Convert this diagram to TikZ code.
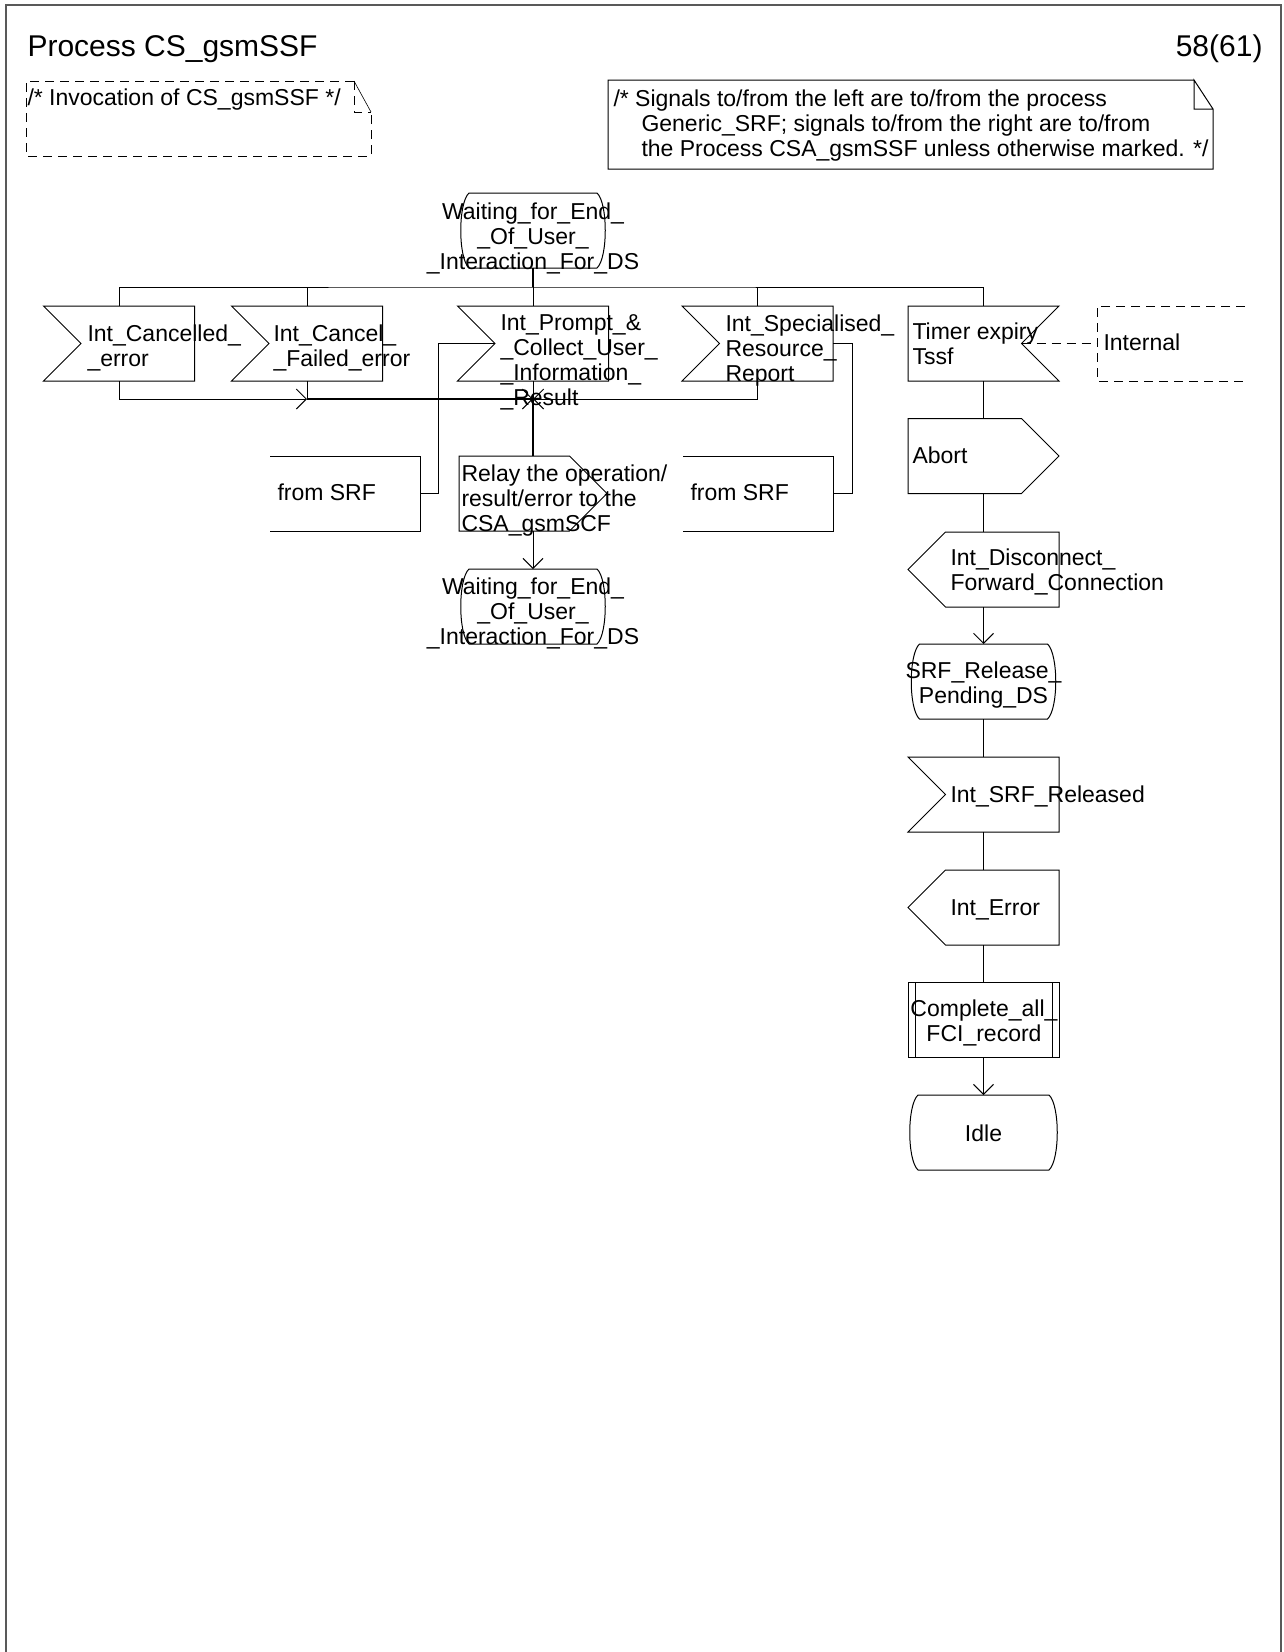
\documentclass[tikz,border=0pt]{standalone}
\usepackage{fontspec}
\setmainfont{Liberation Sans}
\usetikzlibrary{calc,arrows.meta}
\newcommand\fsn{\fontsize{23}{25}\selectfont}
\newcommand\fst{\fontsize{30}{34}\selectfont}
% shape outlines drawn from a named (invisible) node
\newcommand\drawinL[1]{\draw (#1.north west) -- (#1.north east) -- (#1.south east) -- (#1.south west) -- ($(#1.west)+(37.5,0)$) -- cycle;}
\newcommand\drawinR[1]{\draw (#1.north east) -- (#1.north west) -- (#1.south west) -- (#1.south east) -- ($(#1.east)+(-37.5,0)$) -- cycle;}
\newcommand\drawoutR[1]{\draw (#1.north west) -- ($(#1.north east)+(-37.5,0)$) -- (#1.east) -- ($(#1.south east)+(-37.5,0)$) -- (#1.south west) -- cycle;}
\newcommand\drawoutL[1]{\draw (#1.west) -- ($(#1.north west)+(37.5,0)$) -- (#1.north east) -- (#1.south east) -- ($(#1.south west)+(37.5,0)$) -- cycle;}
\newcommand\drawstate[1]{\draw ($(#1.north west)+(10,0)$) -- ($(#1.north east)+(-10,0)$) .. controls ($(#1.north east)+(1,10)$) and ($(#1.south east)+(1,-10)$) .. ($(#1.south east)+(-10,0)$) -- ($(#1.south west)+(10,0)$) .. controls ($(#1.south west)+(-1,-10)$) and ($(#1.north west)+(-1,10)$) .. ($(#1.north west)+(10,0)$) -- cycle;}
\newcommand\drawproc[1]{\draw (#1.north west) rectangle (#1.south east); \draw ($(#1.north west)+(7,0)$) -- ($(#1.south west)+(7,0)$); \draw ($(#1.north east)+(-7,0)$) -- ($(#1.south east)+(-7,0)$);}
\newcommand\drawcomm[1]{\draw (#1.north west) -- (#1.north east) -- (#1.south east) -- (#1.south west);}
\begin{document}
\begin{tikzpicture}[x=1pt,y=-1pt,line width=1pt,
  box/.style={inner sep=0pt, outer sep=0pt, minimum width=151, minimum height=75},
  sbox/.style={box, minimum width=148},
  txt/.style={anchor=north west, inner sep=0pt, align=left, font=\fsn, execute at begin node=\strut},
  txtc/.style={anchor=north, inner sep=0pt, align=center, font=\fsn, execute at begin node=\strut},
  arr/.style={-{Straight Barb[length=10pt,width=20pt]}},
  dsh/.style={dash pattern=on 9pt off 6pt},
  heavy/.style={line width=2pt}]
\useasboundingbox (0,0) rectangle (1284,1652);
% frame
\draw[black!65, line width=1.5pt] (6,1652) -- (6,5) -- (1281,5) -- (1281,1652);
% title
\node[anchor=base west, inner sep=0pt, font=\fst] (title) at (27,56) {Process CS\_gsmSSF};
\node[anchor=base east, inner sep=0pt, font=\fst] (page) at (1263,56) {58(61)};
% comments
\draw[dsh] (354,81) -- (26,81) -- (26,156) -- (371,156) -- (371,112);
\draw[line width=0.6pt] (354,81) -- (371,112);
\draw[dsh, line width=0.8pt] (354,81) -- (354,112) -- (371,112);
\node[txt] (cinv) at (27,87) {/* Invocation of CS\_gsmSSF */};
\draw (1194,80) -- (608,80) -- (608,169) -- (1213,169) -- (1213,109) -- (1194,80) -- (1194,109) -- (1213,109);
\node[txt] (csig) at (613,89.5) {/* Signals to/from the left are to/from the process\\\hspace*{28pt}Generic\_SRF; signals to/from the right are to/from\\\hspace*{28pt}the Process CSA\_gsmSSF unless otherwise marked. */};
% shape nodes
\node[sbox] (topst) at (533,230.5) {};
\node[box] (sigA) at (119,343.5) {};
\node[box] (sigB) at (307,343.5) {};
\node[box] (sigC) at (533,343.5) {};
\node[box] (sigD) at (757.5,343.5) {};
\node[box] (sigE) at (983.5,343.5) {};
\node[sbox] (intl) at (1171,343.5) {};
\node[box, minimum width=150] (cmL) at (345,493.5) {};
\node[sbox] (relay) at (533,493.5) {};
\node[box, minimum width=150] (cmR) at (758,493.5) {};
\node[sbox] (botst) at (533,606.5) {};
\node[box] (abort) at (983.5,456) {};
\node[box] (disc) at (983.5,569.5) {};
\node[sbox] (srfst) at (983.5,681.5) {};
\node[box] (srfrel) at (983.5,794.5) {};
\node[box] (interr) at (983.5,907.5) {};
\node[box] (compl) at (983.5,1019.5) {};
\node[box] (idle) at (983.5,1132.5) {};
% outlines
\drawstate{topst}
\drawinL{sigA}
\drawinL{sigB}
\drawinL{sigC}
\drawinL{sigD}
\drawinR{sigE}
\draw[dsh] (intl.north east) -- (intl.north west) -- (intl.south west) -- (intl.south east);
\drawcomm{cmL}
\drawoutR{relay}
\drawcomm{cmR}
\drawstate{botst}
\drawoutR{abort}
\drawoutL{disc}
\drawstate{srfst}
\drawinL{srfrel}
\drawoutL{interr}
\drawproc{compl}
\drawstate{idle}
% texts
\node[txtc] (ttop) at (533,202.5) {Waiting\_for\_End\_\\\_Of\_User\_\\\_Interaction\_For\_DS};
\node[txt] (tA) at (87,324.5) {Int\_Cancelled\_\\\_error};
\node[txt] (tB) at (273,324.5) {Int\_Cancel\_\\\_Failed\_error};
\node[txt] (tC) at (500,314.5) {Int\_Prompt\_\&\\\_Collect\_User\_\\\_Information\_\\\_Result};
\node[txt] (tD) at (725,314.5) {Int\_Specialised\_\\Resource\_\\Report};
\node[txt] (tE) at (912,322.5) {Timer expiry\\Tssf};
\node[txt] (tInt) at (1103,332.5) {Internal};
\node[txt] (tCL) at (277,482.5) {from SRF};
\node[txt] (tRelay) at (461,464.5) {Relay the operation/\\result/error to the\\CSA\_gsmSCF};
\node[txt] (tCR) at (690,482.5) {from SRF};
\node[txtc] (tBot) at (533,577.5) {Waiting\_for\_End\_\\\_Of\_User\_\\\_Interaction\_For\_DS};
\node[txt] (tAbort) at (912,445.5) {Abort};
\node[txt] (tDisc) at (950,548.5) {Int\_Disconnect\_\\Forward\_Connection};
\node[txtc] (tSrf) at (983.5,661) {SRF\_Release\_\\Pending\_DS};
\node[txt] (tRel) at (950,784.5) {Int\_SRF\_Released};
\node[txt] (tErr) at (950,897.5) {Int\_Error};
\node[txtc] (tCompl) at (984,999.5) {Complete\_all\_\\FCI\_record};
\node[txtc] (tIdle) at (983.5,1123) {Idle};
% connectors
\coordinate (bus) at (533,287);
\coordinate (mrg) at (533,399);
\coordinate (sigCn) at ($(sigC.west)+(37.5,0)$);
\coordinate (sigEn) at ($(sigE.east)+(-37.5,0)$);
\draw[heavy] (topst.south) -- (bus);
\draw (sigA.north) |- (bus) -| (sigE.north);
\draw (sigB.north) -- (sigB.north |- bus);
\draw (sigC.north) -- (bus);
\draw (sigD.north) -- (sigD.north |- bus);
\draw[arr] (sigA.south) |- (sigB.south |- mrg);
\draw (sigB.south) -- (sigB.south |- mrg);
\draw[heavy] (sigB.south |- mrg) -- (mrg);
\draw[arr] ($(mrg)+(-20,0)$) -- (mrg);
\draw[arr] (sigD.south) |- (mrg);
\draw (sigC.south) -- (mrg);
\draw[heavy] (mrg) -- (relay.north);
\draw (cmL.east) -- ++(18,0) |- (sigCn);
\draw (cmR.east) -- ++(19,0) |- (sigD.east);
\draw[dsh] (sigEn) -- (intl.west);
\draw[arr] (relay.south) -- (botst.north);
\draw (sigE.south) -- (abort.north);
\draw (abort.south) -- (disc.north);
\draw[arr] (disc.south) -- (srfst.north);
\draw (srfst.south) -- (srfrel.north);
\draw (srfrel.south) -- (interr.north);
\draw (interr.south) -- (compl.north);
\draw[arr] (compl.south) -- (idle.north);
\end{tikzpicture}
\end{document}
